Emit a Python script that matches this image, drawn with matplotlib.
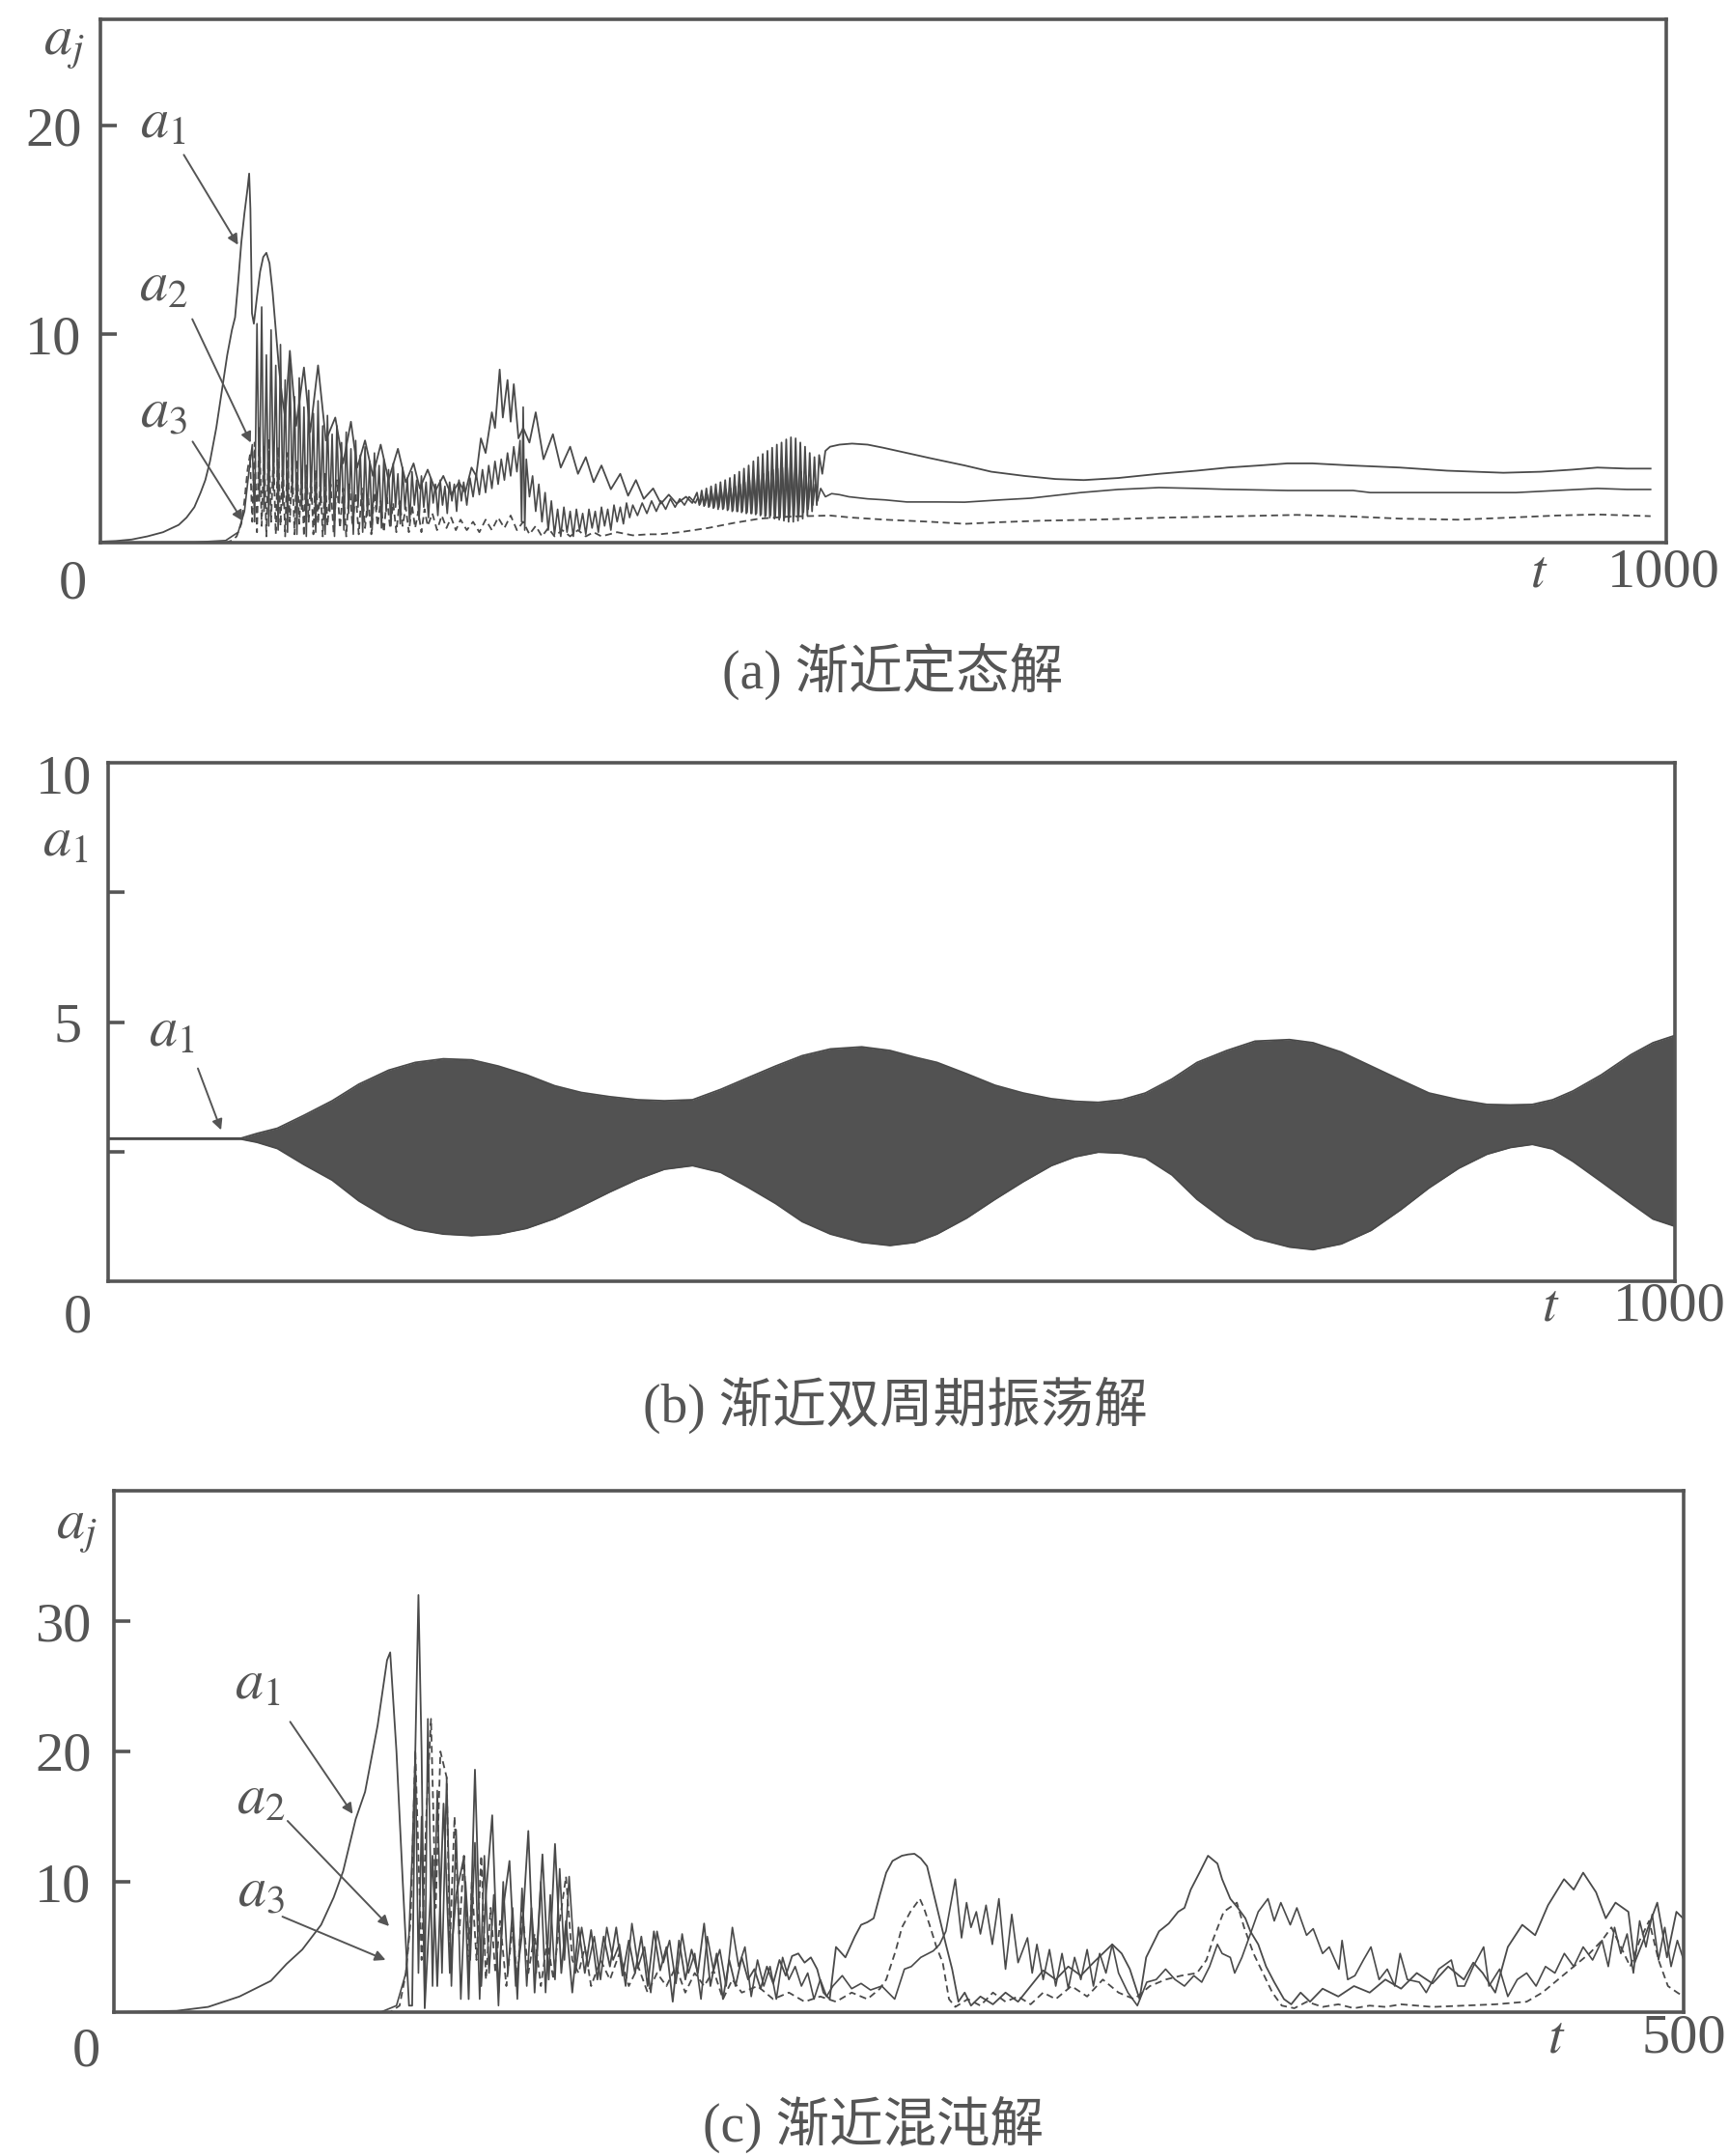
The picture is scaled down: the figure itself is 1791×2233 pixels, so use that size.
import matplotlib
matplotlib.use('Agg')
import matplotlib.pyplot as plt

# ---------------- data ----------------
# panel (a): asymptotic steady solution, t in [0, 1000]
A_A1 = [(0, 0.05), (10, 0.08), (20, 0.15), (30, 0.3), (40, 0.5), (50, 0.85), (55, 1.2), (60, 1.7), (64, 2.4),
        (67, 3.0), (70, 3.9), (74, 5.5), (78, 7.5), (81, 9.0), (84, 10.2), (86, 10.8), (88, 12.5), (90, 14.4),
        (92, 15.8), (94, 17.0), (95, 17.7), (95.8, 16.0), (96.8, 11.0), (98, 10.5), (100, 11.8), (102, 13.0),
        (104, 13.7), (106, 13.9), (108, 13.4), (110, 12.0), (112, 10.2), (114, 8.4), (116, 7.0), (118, 6.0),
        (121, 9.2), (125, 5.6), (130, 8.4), (134, 5.3), (139, 8.5), (144, 4.9), (150, 6.0), (155, 3.8),
        (160, 5.8), (164, 3.6), (169, 4.9), (174, 3.2), (179, 4.7), (184, 3.0), (190, 4.5), (195, 2.9),
        (200, 3.8), (204, 2.6), (209, 3.5), (214, 2.5), (219, 3.2), (224, 2.3), (229, 2.9), (233, 2.4),
        (237, 3.6), (240, 3.2), (243, 5.0), (246, 4.3), (250, 6.25), (252, 5.5), (255, 8.3), (257, 6.0),
        (260, 7.8), (262, 5.8), (264, 7.6), (267, 5.0), (270, 5.5), (274, 4.8), (278, 6.25), (283, 4.0),
        (289, 5.2), (294, 3.6), (300, 4.6), (305, 3.3), (310, 4.1), (315, 2.9), (320, 3.7), (326, 2.56),
        (332, 3.3), (337, 2.25), (342, 3.0), (347, 2.1), (353, 2.6), (358, 1.87), (363, 2.3), (368, 1.87),
        (374, 2.2), (378, 1.9), (381, 2.4), (382.5, 1.8), (384, 2.5), (385.5, 1.75), (387, 2.6), (388.5, 1.7),
        (390, 2.7), (391.5, 1.65), (393, 2.8), (394.5, 1.6), (396, 2.9), (397.5, 1.6), (399, 3.0), (400.5, 1.55),
        (402, 3.1), (403.5, 1.5), (405, 3.25), (406.5, 1.5), (408, 3.4), (409.5, 1.45), (411, 3.55), (412.5, 1.4),
        (414, 3.7), (415.5, 1.4), (417, 3.9), (418.5, 1.35), (420, 4.1), (421.5, 1.3), (423, 4.25), (424.5, 1.25),
        (426, 4.4), (427.5, 1.2), (429, 4.55), (430.5, 1.15), (432, 4.7), (433.5, 1.1), (435, 4.8), (436.5, 1.05),
        (438, 4.95), (439.5, 1.0), (441, 5.05), (442.5, 1.0), (444, 5.0), (445.5, 1.05), (447, 4.8), (448.5, 1.15),
        (450, 4.6), (451.5, 1.3), (453, 4.3), (454.5, 1.5), (456, 4.1), (457.5, 1.8), (459, 4.2), (461, 3.3),
        (463, 4.4), (466, 4.6), (472, 4.7), (480, 4.75), (490, 4.7), (500, 4.55), (515, 4.3), (530, 4.05),
        (552, 3.7), (569, 3.4), (590, 3.2), (610, 3.05), (628, 3.0), (650, 3.1), (676, 3.3), (700, 3.45),
        (720, 3.6), (740, 3.7), (758, 3.8), (774, 3.8), (799, 3.7), (830, 3.6), (860, 3.45), (896, 3.35),
        (920, 3.4), (940, 3.5), (956, 3.6), (975, 3.55), (990, 3.55)]

A_A2 = [(0, 0), (60, 0.02), (80, 0.1), (88, 0.5), (92, 1.5), (95, 3.5), (97, 4.7), (98.5, 1.0), (100, 10.5),
        (101.5, 2.0), (103, 11.3), (104.5, 1.5), (106, 9.0), (107.5, 0.8), (109, 10.2), (110.5, 2.5), (112, 8.5),
        (113.5, 0.6), (115, 9.5), (116.5, 1.8), (118, 7.8), (119.5, 0.5), (121, 8.6), (122.5, 2.2), (124, 7.0),
        (125.5, 0.4), (127, 7.9), (128.5, 1.6), (130, 6.5), (131.5, 0.3), (133, 7.3), (134.5, 2.0), (136, 6.2),
        (137.5, 0.5), (139, 6.8), (140.5, 1.8), (142, 5.6), (143.5, 0.4), (145, 6.1), (146.5, 1.5), (148, 5.2),
        (149.5, 0.3), (151, 5.6), (152.5, 1.9), (154, 4.8), (155.5, 0.6), (157, 5.3), (158.5, 1.4), (160, 4.5),
        (161.5, 0.4), (163, 4.9), (164.5, 1.7), (166, 4.2), (167.5, 0.5), (169, 4.6), (170.5, 1.3), (172, 3.9),
        (173.5, 0.6), (175, 4.3), (176.5, 1.6), (178, 3.7), (179.5, 0.7), (181, 4.0), (182.5, 1.5), (184, 3.5),
        (185.5, 0.8), (187, 3.8), (188.5, 1.7), (190, 3.3), (191.5, 0.9), (193, 3.6), (194.5, 1.6), (196, 3.1),
        (197.5, 1.0), (199, 3.4), (200.5, 1.8), (202, 3.0), (203.5, 1.1), (205, 3.2), (206.5, 1.7), (208, 2.9),
        (209.5, 1.2), (211, 3.1), (212.5, 1.9), (214, 2.8), (215.5, 1.3), (217, 3.0), (218.5, 1.8), (220, 2.7),
        (221.5, 1.4), (223, 2.9), (224.5, 2.0), (226, 2.8), (227.5, 1.5), (229, 3.0), (230.5, 2.0), (232, 2.9),
        (234, 1.8), (236, 3.1), (238, 2.2), (240, 3.3), (242, 2.3), (244, 3.5), (246, 2.4), (248, 3.7),
        (250, 2.6), (252, 3.9), (254, 2.8), (256, 4.0), (258, 3.0), (260, 4.3), (262, 3.2), (264, 4.6),
        (266, 3.4), (268, 4.9), (269, 1.0), (270, 6.5), (271, 0.6), (272, 4.0), (274, 2.2), (276, 3.2),
        (278, 1.5), (280, 2.8), (282, 1.0), (284, 2.4), (286, 0.6), (288, 2.0), (290, 0.4), (292, 1.6),
        (294, 0.3), (296, 1.7), (298, 0.5), (300, 1.5), (302, 0.3), (304, 1.6), (306, 0.6), (308, 1.4),
        (310, 0.4), (312, 1.6), (314, 0.7), (316, 1.5), (318, 0.5), (320, 1.7), (322, 0.8), (324, 1.6),
        (326, 0.6), (328, 1.8), (330, 1.0), (332, 1.7), (334, 0.9), (336, 1.9), (338, 1.2), (340, 1.8),
        (343, 1.3), (346, 1.9), (349, 1.4), (352, 2.0), (355, 1.5), (358, 2.0), (361, 1.6), (364, 2.1),
        (367, 1.7), (370, 2.1), (373, 1.8), (376, 2.2), (380, 1.9), (381.5, 2.15), (383, 1.85), (384.5, 2.2),
        (386, 1.8), (387.5, 2.3), (389, 1.75), (390.5, 2.35), (392, 1.7), (393.5, 2.4), (395, 1.7), (396.5, 2.5),
        (398, 1.65), (399.5, 2.55), (401, 1.6), (402.5, 2.6), (404, 1.55), (405.5, 2.7), (407, 1.5), (408.5, 2.8),
        (410, 1.5), (411.5, 2.9), (413, 1.45), (414.5, 3.0), (416, 1.4), (417.5, 3.1), (419, 1.4), (420.5, 3.2),
        (422, 1.35), (423.5, 3.3), (425, 1.3), (426.5, 3.4), (428, 1.3), (429.5, 3.5), (431, 1.25), (432.5, 3.55),
        (434, 1.2), (435.5, 3.6), (437, 1.2), (438.5, 3.6), (440, 1.2), (441.5, 3.55), (443, 1.25), (444.5, 3.5),
        (446, 1.3), (447.5, 3.4), (449, 1.45), (450.5, 3.2), (452, 1.6), (453.5, 3.0), (455, 1.8), (456.5, 2.8),
        (458, 2.0), (460, 2.6), (463, 2.2), (467, 2.35), (472, 2.3), (478, 2.2), (490, 2.1), (501, 2.05),
        (515, 1.95), (535, 1.95), (552, 1.94), (575, 2.05), (594, 2.13), (626, 2.4), (650, 2.55), (676, 2.64),
        (700, 2.6), (717, 2.56), (758, 2.5), (800, 2.5), (811, 2.4), (860, 2.4), (904, 2.4), (930, 2.5),
        (956, 2.6), (975, 2.55), (990, 2.55)]

A_A3 = [(0, 0), (80, 0.0), (84, 0.1), (87, 0.3), (90, 0.9), (92, 2.0), (94, 3.5), (95.5, 4.2), (97, 1.0),
        (98.5, 4.8), (100, 0.5), (101.5, 5.5), (103, 0.8), (104.5, 4.6), (106, 0.3), (107.5, 5.0), (109, 1.0),
        (110.5, 4.2), (112, 0.4), (113.5, 4.6), (115, 0.8), (116.5, 3.9), (118, 0.3), (119.5, 4.3), (121, 1.0),
        (122.5, 3.6), (124, 0.4), (125.5, 4.0), (127, 0.9), (128.5, 3.4), (130, 0.3), (131.5, 3.7), (133, 1.0),
        (134.5, 3.2), (136, 0.4), (137.5, 3.5), (139, 0.9), (140.5, 3.0), (142, 0.3), (143.5, 3.3), (145, 0.8),
        (147, 2.8), (149, 0.4), (151, 3.0), (153, 0.7), (155, 2.6), (157, 0.3), (159, 2.8), (161, 0.8),
        (163, 2.4), (165, 0.4), (167, 2.6), (169, 0.7), (171, 2.2), (173, 0.4), (175, 2.4), (177, 0.8),
        (179, 2.0), (181, 0.5), (183, 2.2), (185, 0.7), (187, 1.9), (189, 0.5), (191, 2.0), (193, 0.8),
        (195, 1.7), (197, 0.5), (199, 1.8), (201, 0.7), (203, 1.5), (205, 0.5), (207, 1.6), (209, 0.8),
        (212, 1.4), (215, 0.6), (218, 1.3), (221, 0.7), (224, 1.2), (227, 0.6), (230, 1.1), (234, 0.6),
        (238, 1.0), (242, 0.5), (246, 1.1), (250, 0.6), (254, 1.2), (258, 0.7), (262, 1.3), (266, 0.6),
        (270, 1.0), (274, 0.4), (278, 0.8), (282, 0.3), (286, 0.7), (290, 0.3), (295, 0.6), (300, 0.3),
        (305, 0.6), (310, 0.3), (315, 0.5), (320, 0.3), (330, 0.5), (340, 0.35), (350, 0.4), (357, 0.4),
        (370, 0.5), (388, 0.7), (405, 0.95), (421, 1.15), (440, 1.25), (466, 1.3), (480, 1.2), (501, 1.1),
        (530, 1.0), (552, 0.9), (571, 0.97), (600, 1.05), (634, 1.1), (680, 1.2), (717, 1.25), (764, 1.33),
        (800, 1.25), (830, 1.15), (867, 1.1), (900, 1.2), (930, 1.3), (956, 1.35), (990, 1.27)]

# panel (b): asymptotic doubly-periodic oscillation of a1, upper / lower envelope of the fast oscillation
B_T = [0, 85, 95, 108, 125, 143, 160, 179, 196, 214, 232, 249, 267, 285, 302, 320, 338, 355, 373, 391, 408,
       426, 443, 461, 481, 499, 515, 529, 548, 566, 584, 602, 617, 632, 647, 662, 679, 695, 714, 732, 754,
       769, 787, 806, 825, 843, 862, 880, 895, 909, 922, 935, 953, 972, 986, 1000]
B_HI = [2.76, 2.76, 2.85, 2.95, 3.2, 3.48, 3.8, 4.07, 4.22, 4.29, 4.27, 4.15, 3.98, 3.77, 3.64, 3.56, 3.5, 3.48,
        3.5, 3.7, 3.92, 4.15, 4.35, 4.48, 4.52, 4.45, 4.32, 4.22, 4.0, 3.78, 3.63, 3.52, 3.47, 3.45, 3.5, 3.63,
        3.9, 4.22, 4.45, 4.63, 4.66, 4.6, 4.42, 4.15, 3.88, 3.63, 3.5, 3.41, 3.4, 3.41, 3.5, 3.67, 3.98, 4.37,
        4.6, 4.74]
B_LO = [2.74, 2.74, 2.68, 2.56, 2.25, 1.95, 1.55, 1.21, 1.0, 0.91, 0.88, 0.91, 1.02, 1.21, 1.45, 1.72, 1.97,
        2.16, 2.23, 2.1, 1.82, 1.5, 1.15, 0.91, 0.75, 0.69, 0.75, 0.91, 1.22, 1.58, 1.92, 2.23, 2.4, 2.49, 2.47,
        2.38, 2.05, 1.58, 1.15, 0.83, 0.66, 0.61, 0.72, 0.98, 1.38, 1.8, 2.18, 2.45, 2.58, 2.64, 2.55, 2.31,
        1.92, 1.5, 1.2, 1.06]

# panel (c): asymptotic chaotic solution, t in [0, 500]
C_A1 = [(0, 0), (20, 0.1), (30, 0.4), (40, 1.2), (50, 2.4), (55, 3.7), (60, 4.8), (66, 6.7), (70, 8.8),
        (73, 10.8), (77, 14.8), (80, 16.9), (84, 22.0), (87, 27.0), (88, 27.6), (90, 20.0), (92, 10.0),
        (94, 0.5), (95, 0.5), (96, 20.0), (97, 32.0), (98, 20.0), (99, 0.3), (101.5, 12.0), (103, 2.0),
        (105, 16.0), (107, 3.0), (109, 9.0), (111.5, 11.9), (113, 1.0), (115, 18.6), (117, 2.0), (118.5, 9.0),
        (120.5, 15.1), (122.5, 1.5), (124, 8.0), (126, 11.6), (128, 2.0), (130, 6.0), (132, 13.9), (134, 1.5),
        (136.5, 12.1), (138.5, 2.5), (140.5, 12.9), (142.5, 3.0), (144, 7.0), (146, 1.5), (148, 6.5), (150, 3.0),
        (152, 6.3), (154, 2.5), (156, 5.8), (158, 3.5), (160, 6.5), (162, 2.8), (164, 5.5), (166, 3.0),
        (168, 5.8), (170, 2.0), (172, 6.2), (174, 3.2), (176, 5.0), (178, 0.8), (180, 5.5), (182, 2.5),
        (184, 4.8), (186, 3.0), (188, 6.8), (190, 2.0), (192, 4.5), (194, 1.0), (196, 4.0), (198, 2.0),
        (200, 4.2), (202, 2.5), (204, 3.3), (206, 1.8), (208, 3.5), (210, 2.2), (212, 4.0), (214, 2.8),
        (216, 4.3), (218, 4.5), (220, 3.8), (222, 4.2), (224, 3.3), (226, 1.5), (228, 1.0), (230, 5.0),
        (233, 4.2), (236, 5.8), (238, 6.7), (240, 6.9), (242, 7.2), (244, 9.0), (246, 10.7), (248, 11.6),
        (251, 12.0), (253, 12.1), (255, 12.15), (257, 11.8), (259, 11.2), (262, 8.2), (265, 5.2), (267, 3.3),
        (269, 0.8), (271, 1.5), (273, 0.5), (276, 1.2), (280, 0.6), (284, 1.5), (288, 0.8), (292, 2.0),
        (296, 3.2), (300, 2.5), (304, 3.5), (308, 2.8), (312, 3.8), (315, 4.5), (318, 5.2), (321, 4.5),
        (323.6, 3.3), (326.7, 1.0), (328.8, 4.2), (332.9, 6.2), (336, 6.8), (339, 7.7), (341, 8.0), (343, 9.4),
        (346, 10.8), (348.5, 12.0), (351.5, 11.4), (353, 10.2), (355.6, 8.7), (358, 8.0), (360.4, 7.2),
        (362, 6.2), (364.5, 5.2), (367, 3.5), (369.6, 2.3), (372.7, 1.0), (375, 0.6), (378, 1.5), (381, 0.8),
        (385, 1.8), (390, 1.2), (395, 2.0), (400, 1.5), (405, 2.5), (410, 1.8), (415, 3.0), (420, 2.2),
        (425, 3.5), (430, 2.5), (433, 3.8), (436, 3.0), (440, 1.5), (444, 5.0), (448.6, 6.7), (452.7, 5.9),
        (456.8, 8.2), (461.9, 10.2), (465, 9.4), (468, 10.7), (472.1, 9.2), (475.2, 7.2), (478.3, 8.4),
        (482.4, 7.7), (484.4, 3.8), (487.5, 5.7), (491.6, 8.4), (494.7, 4.2), (497.7, 7.7), (499.8, 7.2)]

C_A2 = [(0, 0), (85, 0), (90, 0.5), (93, 3.0), (94, 6.0), (95, 12.0), (96, 20.0), (97, 3.0), (98, 15.0),
        (99, 1.0), (100, 22.5), (101.5, 2.0), (103, 17.0), (104.5, 3.0), (106, 18.0), (107.5, 2.0), (109, 14.0),
        (110.5, 1.0), (112, 10.0), (113.5, 4.0), (115, 13.0), (116.5, 1.0), (118, 12.0), (119.5, 3.0),
        (121, 9.0), (122.5, 0.5), (124, 10.0), (125.5, 3.0), (127, 8.0), (128.5, 1.0), (130, 9.5), (131.5, 2.0),
        (133, 8.0), (134.5, 3.0), (136, 10.0), (137.5, 1.5), (139, 9.0), (140.5, 2.5), (142, 11.0), (143.5, 4.0),
        (145, 10.4), (147, 3.0), (149, 6.5), (151, 3.5), (153, 5.8), (155, 2.5), (157, 6.5), (159, 4.0),
        (161, 5.2), (163, 2.0), (165, 6.8), (167, 3.5), (169, 5.0), (171, 1.5), (173, 6.2), (175, 3.8),
        (177, 5.5), (179, 2.2), (181, 6.0), (183, 3.0), (185, 4.5), (187, 1.0), (189, 5.8), (191, 3.2),
        (193, 4.8), (195, 2.0), (197, 6.5), (199, 3.5), (201, 5.0), (203, 1.2), (205, 4.0), (207, 2.0),
        (209, 3.5), (211, 1.0), (213, 4.2), (215, 2.5), (217, 3.5), (219, 2.0), (221, 3.0), (223, 1.0),
        (225, 2.5), (227, 1.2), (229, 2.0), (232, 2.8), (235, 1.8), (238, 2.2), (241, 1.7), (244.6, 2.0),
        (248.7, 1.0), (251.8, 3.3), (254, 3.5), (257, 4.2), (261, 4.7), (263, 5.2), (265, 6.2), (268, 10.2),
        (270, 5.7), (271.6, 8.4), (273, 6.5), (274.7, 7.7), (276, 6.0), (277.8, 8.2), (279.8, 5.2), (281.9, 8.7),
        (284, 3.3), (286, 7.5), (288, 3.8), (291, 5.7), (292.5, 3.0), (294, 5.2), (296, 2.5), (298, 4.8),
        (300, 2.0), (302, 4.5), (304, 1.8), (306, 4.2), (308, 2.5), (310, 4.8), (312, 2.0), (314, 4.5),
        (316, 3.0), (318, 5.2), (320, 3.0), (323, 1.5), (326, 0.5), (329, 2.3), (332, 2.5), (335, 3.3),
        (338, 2.5), (341, 2.0), (344, 2.8), (346.5, 2.3), (349, 3.5), (351.5, 5.2), (353, 4.5), (355.6, 4.2),
        (357, 3.0), (359.3, 4.2), (362, 6.0), (364.5, 7.7), (367.6, 8.7), (369.6, 7.0), (371.7, 8.4),
        (374.7, 6.7), (376.8, 8.0), (379.9, 5.9), (382, 6.4), (385, 4.5), (387.1, 5.0), (390.2, 3.3),
        (391.2, 5.5), (393, 2.5), (395.3, 2.8), (398, 4.0), (400.4, 5.0), (403, 2.5), (405.6, 3.3), (408, 2.0),
        (409.7, 4.5), (412, 2.5), (415.8, 2.3), (418, 1.5), (422, 3.3), (426, 4.0), (428, 2.0), (430.2, 2.0),
        (433, 3.5), (436.3, 5.0), (438, 2.0), (441.4, 3.3), (444, 1.2), (447, 2.5), (450, 3.0), (453, 2.0),
        (456, 3.5), (459, 3.0), (462, 4.5), (465, 3.5), (468, 5.0), (471, 4.0), (474, 5.5), (476, 3.5),
        (478, 6.5), (480, 4.5), (482, 6.0), (484, 3.0), (486, 7.0), (488, 5.0), (490, 7.5), (492, 4.0),
        (494, 6.5), (496, 3.5), (498, 5.5), (500, 4.0)]

C_A3 = [(0, 0), (88, 0), (91, 0.5), (93, 3.0), (94.5, 7.0), (96, 20.0), (97, 12.0), (98, 4.0), (99.5, 15.0),
        (101, 22.5), (102.5, 8.0), (104, 20.0), (106, 18.0), (107, 5.0), (108.5, 15.0), (110, 6.0), (111.5, 12.0),
        (113, 3.0), (114, 10.0), (115.5, 4.0), (117, 12.0), (118.5, 2.5), (120, 8.0), (121.5, 3.0), (123, 7.0),
        (125, 2.0), (127, 6.5), (128.5, 2.5), (130, 8.0), (132, 3.0), (134, 6.0), (136, 2.0), (138, 5.5),
        (140, 2.5), (142, 7.0), (144, 10.4), (146, 4.0), (148, 3.0), (150, 5.0), (152, 2.0), (155, 4.0),
        (158, 2.5), (161, 4.5), (164, 2.0), (167, 3.5), (170, 1.5), (173, 3.0), (176, 2.0), (179, 3.5),
        (182, 1.5), (185, 3.0), (188, 2.0), (191, 3.2), (194, 1.0), (197, 2.5), (200, 1.5), (205, 2.0),
        (210, 1.0), (215, 1.5), (220, 0.8), (225, 1.2), (230, 0.8), (235, 1.5), (240, 1.0), (244, 1.8),
        (246, 2.5), (249, 4.7), (251, 6.5), (253.7, 7.7), (256.7, 8.7), (258, 8.0), (259.8, 6.7), (262, 5.0),
        (264, 3.8), (266, 1.0), (268, 0.4), (272, 1.0), (276, 0.5), (280, 1.5), (284, 0.8), (288, 1.2),
        (292, 0.6), (296, 1.5), (300, 1.0), (305, 2.0), (310, 1.2), (315, 2.5), (320, 1.5), (325, 1.0),
        (330, 2.0), (335, 2.5), (340, 2.8), (345, 3.0), (348, 4.0), (350, 5.5), (353.5, 7.7), (357.7, 8.4),
        (360, 6.5), (363, 4.5), (366, 3.0), (369, 1.5), (372, 0.5), (376, 0.3), (380, 0.8), (385, 0.4),
        (390, 0.6), (395, 0.3), (400, 0.5), (405, 0.4), (410, 0.6), (420, 0.4), (430, 0.5), (440, 0.6),
        (450, 0.8), (455, 1.5), (460, 2.5), (465, 3.5), (470, 4.5), (474, 5.5), (477, 6.5), (480, 5.0),
        (483, 3.5), (486, 5.5), (489, 7.0), (492, 4.0), (495, 2.0), (498, 1.5), (500, 1.2)]

# axis settings
A_YTICKS = [10, 20]
B_YTICKS = [2.5, 5, 7.5]
B_YTICKLABELS = ['', '5', '']
C_YTICKS = [10, 20, 30]
CAPTIONS = ['(a) 渐近定态解', '(b) 渐近双周期振荡解', '(c) 渐近混沌解']

# ---------------- drawing ----------------
W, H = 1791, 2233
INK = '#555555'
LINE = '#4a4a4a'
NUM = 42
plt.rcParams['font.family'] = ['Liberation Serif', 'Noto Sans CJK SC']
plt.rcParams['mathtext.fontset'] = 'stix'

fig = plt.figure(figsize=(W / 100, H / 100), dpi=100)
fig.patch.set_facecolor('white')


def px(x, y):
    return (x / W, 1 - y / H)


def make_axes(l, r, t, b):
    ax = fig.add_axes([l / W, 1 - b / H, (r - l) / W, (b - t) / H])
    for s in ax.spines.values():
        s.set_linewidth(2.6)
        s.set_color(INK)
    ax.set_xticks([])
    ax.tick_params(axis='y', direction='in', length=12, width=2.6, color=INK,
                   labelsize=NUM, labelcolor=INK, pad=14)
    return ax


def ftext(x, y, s, size=NUM, **kw):
    fig.text(*px(x, y), s, fontsize=size, color=INK, ha='center', va='center', **kw)


def arrow(x0, y0, x1, y1):
    fig.add_artist(matplotlib.patches.FancyArrowPatch(
        px(x0, y0), px(x1, y1), transform=fig.transFigure, arrowstyle='-|>',
        mutation_scale=16, lw=1.4, color=INK))


def xy(pairs):
    return [p[0] for p in pairs], [p[1] for p in pairs]


# ----- panel a
axa = make_axes(104, 1726, 20, 562)
axa.set_xlim(0, 1000)
axa.set_ylim(0, 25.1)
axa.set_yticks(A_YTICKS, [str(v) for v in A_YTICKS])
t, v = xy(A_A3)
axa.plot(t, v, color=LINE, lw=1.3, ls=(0, (4, 2.5)))
t, v = xy(A_A2)
axa.plot(t, v, color=LINE, lw=1.2)
t, v = xy(A_A1)
axa.plot(t, v, color=LINE, lw=1.3)

ftext(66, 48, '$a_j$', size=42)
ftext(169, 128, '$a_1$', size=42)
ftext(169, 297, '$a_2$', size=42)
ftext(169, 429, '$a_3$', size=42)
arrow(189, 158, 248, 256)
arrow(198, 328, 261, 461)
arrow(198, 455, 253, 542)
ftext(75, 605, '0')
ftext(1594, 593, '$t$', size=40)
ftext(1723, 593, '1000')
ftext(925, 695, CAPTIONS[0], size=40)

# ----- panel b
axb = make_axes(112, 1735, 790, 1327)
axb.set_xlim(0, 1000)
axb.set_ylim(0, 10)
axb.set_yticks(B_YTICKS, B_YTICKLABELS)
axb.tick_params(axis='y', pad=20)
axb.fill_between(B_T, B_LO, B_HI, color='#525252', lw=0)
axb.plot(B_T, B_HI, color=LINE, lw=1.3)
axb.plot(B_T, B_LO, color=LINE, lw=1.3)

ftext(66, 807, '10')
ftext(68, 872, '$a_1$', size=42)
ftext(178, 1069, '$a_1$', size=42)
arrow(204, 1104, 230, 1173)
ftext(80, 1365, '0')
ftext(1606, 1353, '$t$', size=40)
ftext(1729, 1353, '1000')
ftext(927, 1455, CAPTIONS[1], size=40)

# ----- panel c
axc = make_axes(118, 1744, 1544, 2084)
axc.set_xlim(0, 500)
axc.set_ylim(0, 40)
axc.set_yticks(C_YTICKS, [str(v) for v in C_YTICKS])
axc.tick_params(axis='y', pad=17)
t, v = xy(C_A3)
axc.plot(t, v, color=LINE, lw=1.3, ls=(0, (4, 2.5)))
t, v = xy(C_A2)
axc.plot(t, v, color=LINE, lw=1.2)
t, v = xy(C_A1)
axc.plot(t, v, color=LINE, lw=1.3)

ftext(79, 1585, '$a_j$', size=42)
ftext(267, 1745, '$a_1$', size=42)
ftext(270, 1864, '$a_2$', size=42)
ftext(270, 1961, '$a_3$', size=42)
arrow(299, 1781, 367, 1881)
arrow(296, 1884, 405, 1997)
arrow(290, 1984, 402, 2031)
ftext(89, 2125, '0')
ftext(1612, 2111, '$t$', size=40)
ftext(1744, 2111, '500')
ftext(905, 2200, CAPTIONS[2], size=40)

fig.savefig('out.png', dpi=100, facecolor='white')
